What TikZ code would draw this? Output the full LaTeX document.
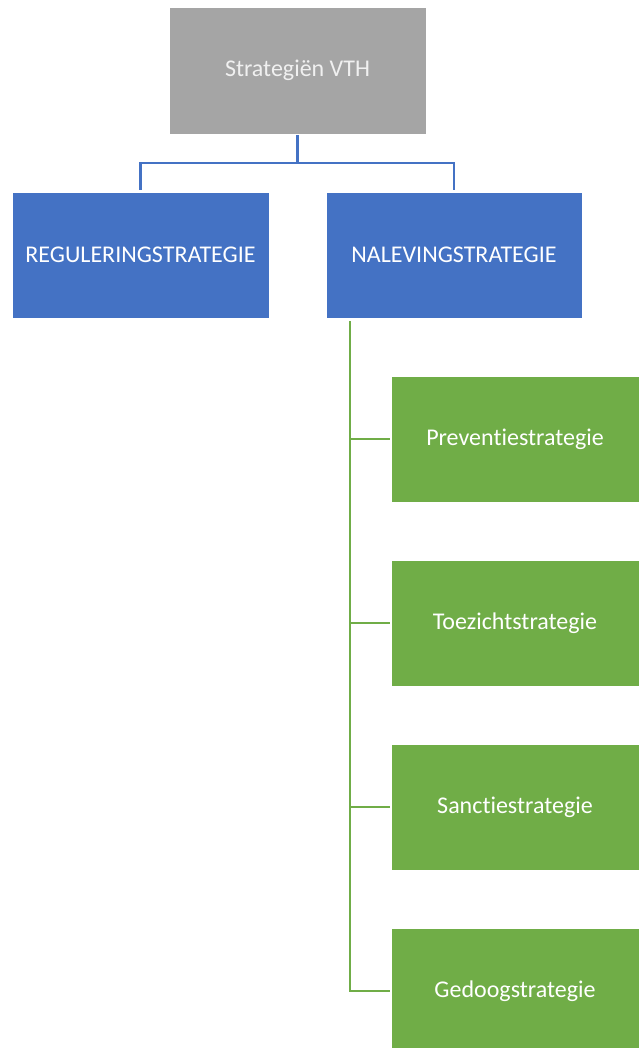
\documentclass[tikz,border=0pt]{standalone}
\usepackage{fontspec}
\setmainfont{Carlito}[Ligatures=NoCommon]
\definecolor{vthgray}{HTML}{A5A5A5}
\definecolor{vthblue}{HTML}{4472C4}
\definecolor{vthgreen}{HTML}{70AD47}
\tikzset{
  box/.style={rectangle, draw=white, line width=0.8pt, minimum height=126, inner sep=0pt,
    font=\fontsize{24}{28}\selectfont, text=white, outer sep=1.5pt},
  bluelink/.style={draw=vthblue, line width=2.8pt},
  greenlink/.style={draw=vthgreen, line width=2.8pt}
}
\begin{document}
\begin{tikzpicture}[x=1pt, y=-1pt]
    \useasboundingbox (0,0) rectangle (638,1048);

    % Top
    \node[box, fill=vthgray, text=white!94!black, minimum width=257, minimum height=127] (vth) at (297.5,70.5) {Strategiën VTH};

    % Second level
    \node[box, fill=vthblue, minimum width=257] (regulering) at (140.5,255) {REGULERINGSTRATEGIE};
    \node[box, fill=vthblue, minimum width=256] (naleving) at (454,255) {NALEVINGSTRATEGIE};

    % Third level
    \node[box, fill=vthgreen, minimum width=248] (preventie) at (515,439) {Preventiestrategie};
    \node[box, fill=vthgreen, minimum width=248] (toezicht) at (515,623) {Toezichtstrategie};
    \node[box, fill=vthgreen, minimum width=248] (sanctie) at (515,807) {Sanctiestrategie};
    \node[box, fill=vthgreen, minimum width=248] (gedoog) at (515,991) {Gedoogstrategie};

    % Links
    \coordinate (split) at (297.5,163);
    \draw[bluelink] (vth.south) -- (split) -| (regulering.north);
    \draw[bluelink] (split) -| (naleving.north);

    \coordinate (trunk) at (350,321);
    \draw[greenlink] (trunk) |- (gedoog.west);
    \foreach \n in {preventie, toezicht, sanctie}
        \draw[greenlink] (trunk |- \n.west) -- (\n.west);
\end{tikzpicture}
\end{document}
